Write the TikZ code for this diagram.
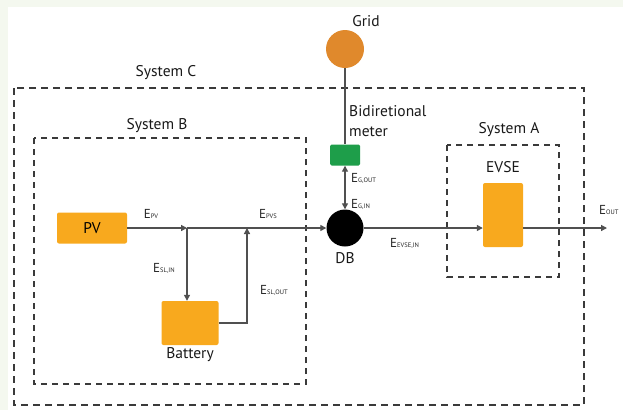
\documentclass[tikz,border=0pt]{standalone}
\usepackage{fontspec}
\setmainfont{PT Sans}
\usetikzlibrary{arrows.meta}
\definecolor{boxorange}{HTML}{F8A91E}
\definecolor{gridorange}{HTML}{E0892C}
\definecolor{metergreen}{HTML}{1E9E4A}
\definecolor{linegray}{HTML}{505050}
\definecolor{dashgray}{HTML}{3A3A3A}
\definecolor{bgtint}{HTML}{F4F8EF}
\tikzset{
  sysbox/.style={draw=dashgray, line width=1.8pt, dash pattern=on 7pt off 5pt},
  subbox/.style={draw=dashgray, line width=1.4pt, dash pattern=on 6pt off 5pt},
  unitbox/.style={fill=boxorange, rounded corners=2pt, inner sep=0pt},
  flow/.style={draw=linegray, line width=1.3pt},
  tip/.style={-{Triangle[length=6pt,width=6pt]}},
  both/.style={{Triangle[length=6pt,width=6pt]}-{Triangle[length=6pt,width=6pt]}},
  title/.style={font=\fontsize{15.5}{18}\selectfont, text=black!90, inner sep=1pt},
  elabel/.style={font=\fontsize{13}{14}\selectfont, text=black!85, inner sep=1pt},
}
\newcommand{\En}[1]{E{\fontsize{6.5}{6.5}\selectfont #1}}
\begin{document}
\begin{tikzpicture}[x=1pt,y=-1pt]
\useasboundingbox (0,0) rectangle (623,410);
\fill[bgtint] (0,0) rectangle (623,410);
\fill[white] (8,7) rectangle (623,410);

% system boxes
\draw[sysbox] (14,88) rectangle (584,405);
\node[title] (sysC) at (166,73) {System C};
\draw[subbox] (34,138) rectangle (306,384);
\node[title] (sysB) at (157,126) {System B};
\draw[subbox] (447,145) rectangle (559,277);
\node[title] (sysA) at (509,130) {System A};

% components
\node[circle, fill=gridorange, minimum size=38pt, inner sep=0pt] (grid) at (345,49) {};
\node[title] (gridl) at (366,21) {Grid};
\node[fill=metergreen, rounded corners=1.5pt, minimum width=30pt, minimum height=21pt, inner sep=0pt] (meter) at (345,155) {};
\node[title, align=left, anchor=north west, font=\fontsize{15.5}{20}\selectfont] (meterl) at (348,104) {Bidiretional\\meter};
\node[circle, fill=black, minimum size=37pt, inner sep=0pt] (db) at (345,228) {};
\node[title] (dbl) at (345,258) {DB};
\node[unitbox, minimum width=70pt, minimum height=31pt, font=\fontsize{15.5}{18}\selectfont] (pv) at (92,228) {PV};
\node[unitbox, minimum width=57pt, minimum height=44pt] (bat) at (190,323) {};
\node[title] (batl) at (190,355) {Battery};
\node[unitbox, minimum width=40pt, minimum height=64pt] (evse) at (503,215) {};
\node[title] (evsel) at (503,167) {EVSE};

% junctions
\coordinate (j1) at (187,228);
\coordinate (j2) at (247,228);
\coordinate (c1) at (247,323);
\coordinate (out) at (607,228);

% flows
\draw[flow, tip] (pv.east) -- (j1);
\draw[flow, tip] (j1) -- (bat.north -| j1);
\draw[flow, tip] (bat.east |- c1) -- (c1) -- (j2);
\draw[flow, tip] (j1) -- (db.west);
\draw[flow, tip] (db.east) -- (evse.west |- db.east);
\draw[flow, tip] (evse.east |- out) -- (out);
\draw[flow] (grid.south) -- (meter.north);
\draw[flow, both] (meter.south) -- (db.north);

% energy labels
\node[elabel] (epv) at (151,214) {\En{PV}};
\node[elabel] (epvs) at (268,214) {\En{PVS}};
\node[elabel] (eslin) at (164,268) {\En{SL,IN}};
\node[elabel] (eslout) at (274,290) {\En{SL,OUT}};
\node[elabel, anchor=west] (egout) at (350,178) {\En{G,OUT}};
\node[elabel, anchor=west] (egin) at (350,204) {\En{G,IN}};
\node[elabel, anchor=west] (eevse) at (389,243) {\En{EVSE,IN}};
\node[elabel, anchor=west] (eout) at (598,210) {\En{OUT}};
\end{tikzpicture}
\end{document}
